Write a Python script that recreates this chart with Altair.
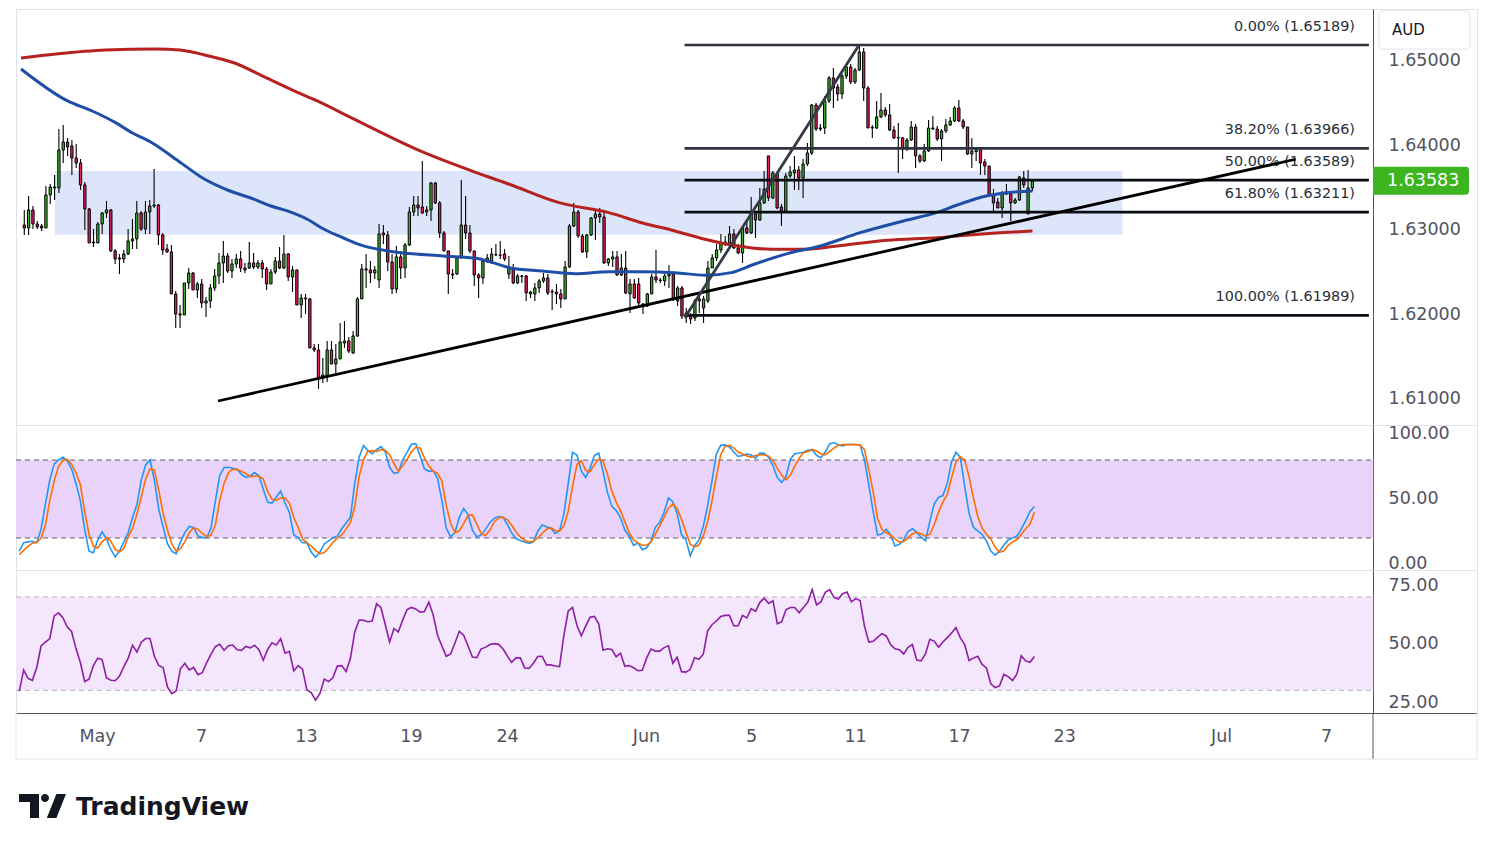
import altair as alt
import pandas as pd

# ---------------- data ----------------
opens = [
1.63059,1.63024,1.63237,1.63071,1.63047,1.63024,1.63414,1.63509,1.63497,1.63947,
1.64041,1.63994,1.63852,1.63793,1.63533,1.63249,1.62858,1.62846,1.63071,1.63201,
1.63237,1.62752,1.62669,1.62657,1.62716,1.62870,1.62894,1.63201,1.63012,1.63213,
1.63284,1.63296,1.62941,1.62775,1.62740,1.62243,1.62006,1.61994,1.62373,1.62491,
1.62290,1.62361,1.62136,1.62160,1.62314,1.62456,1.62610,1.62692,1.62515,1.62598,
1.62657,1.62550,1.62550,1.62610,1.62562,1.62610,1.62539,1.62361,1.62503,1.62633,
1.62550,1.62716,1.62444,1.62527,1.62113,1.62195,1.62184,1.61604,1.61580,1.61249,
1.61272,1.61580,1.61414,1.61473,1.61663,1.61686,1.61544,1.61746,1.62184,1.62539,
1.62527,1.62491,1.62408,1.62965,1.62941,1.62621,1.62302,1.62681,1.62550,1.62823,
1.63213,1.63296,1.63272,1.63213,1.63237,1.63556,1.63320,1.62965,1.62752,1.62479,
1.62479,1.62669,1.63059,1.62965,1.62752,1.62468,1.62432,1.62633,1.62633,1.62704,
1.62704,1.62716,1.62479,1.62550,1.62373,1.62456,1.62456,1.62243,1.62243,1.62314,
1.62397,1.62432,1.62272,1.62266,1.62243,1.62184,1.62562,1.63047,1.63213,1.62929,
1.62740,1.62941,1.63142,1.63189,1.63154,1.62610,1.62657,1.62681,1.62468,1.62550,
1.62243,1.62361,1.62361,1.62124,1.62101,1.62243,1.62444,1.62408,1.62397,1.62456,
1.62479,1.62160,1.62314,1.62018,1.61982,1.61959,1.62160,1.62077,1.62160,1.62550,
1.62669,1.62763,1.62858,1.62846,1.62953,1.62787,1.62728,1.63024,1.62965,1.63189,
1.63118,1.63320,1.63876,1.63379,1.63663,1.63272,1.63225,1.63639,1.63675,1.63710,
1.63615,1.63781,1.63911,1.64479,1.64207,1.64207,1.64527,1.64799,1.64692,1.64610,
1.64822,1.64929,1.64751,1.64893,1.65106,1.64680,1.64213,1.64207,1.64337,1.64420,
1.64361,1.64183,1.64095,1.64089,1.63959,1.64065,1.64219,1.63876,1.63817,1.63935,
1.64207,1.64195,1.64077,1.64172,1.64243,1.64290,1.64444,1.64290,1.64219,1.63899,
1.63927,1.63947,1.63805,1.63757,1.63414,1.63331,1.63260,1.63450,1.63426,1.63320,
1.63355,1.63615,1.63189,1.63497]

closes = [
1.63024,1.63237,1.63071,1.63036,1.63024,1.63414,1.63509,1.63497,1.63947,1.64041,
1.63982,1.63852,1.63793,1.63533,1.63249,1.62846,1.62846,1.63071,1.63201,1.63237,
1.62752,1.62657,1.62657,1.62716,1.62870,1.62894,1.63201,1.63012,1.63213,1.63284,
1.63296,1.62941,1.62763,1.62740,1.62243,1.62006,1.61994,1.62373,1.62491,1.62290,
1.62361,1.62136,1.62160,1.62314,1.62456,1.62610,1.62692,1.62515,1.62598,1.62657,
1.62550,1.62527,1.62610,1.62562,1.62610,1.62539,1.62361,1.62503,1.62633,1.62550,
1.62716,1.62444,1.62527,1.62113,1.62195,1.62184,1.61604,1.61580,1.61249,1.61284,
1.61580,1.61414,1.61473,1.61675,1.61686,1.61568,1.61746,1.62184,1.62539,1.62527,
1.62491,1.62527,1.62953,1.62941,1.62621,1.62302,1.62681,1.62550,1.62823,1.63213,
1.63296,1.63260,1.63201,1.63237,1.63556,1.63320,1.62965,1.62752,1.62479,1.62468,
1.62669,1.63059,1.62965,1.62752,1.62468,1.62432,1.62633,1.62669,1.62716,1.62708,
1.62700,1.62657,1.62550,1.62373,1.62456,1.62452,1.62255,1.62266,1.62314,1.62397,
1.62432,1.62255,1.62266,1.62243,1.62184,1.62562,1.63047,1.63213,1.62929,1.62740,
1.62941,1.63142,1.63189,1.63154,1.62610,1.62657,1.62681,1.62468,1.62550,1.62255,
1.62361,1.62195,1.62136,1.62101,1.62243,1.62444,1.62408,1.62402,1.62456,1.62479,
1.62195,1.62314,1.61982,1.61970,1.61947,1.62160,1.62184,1.62184,1.62550,1.62669,
1.62763,1.62846,1.62834,1.62953,1.62787,1.62728,1.63024,1.62965,1.63201,1.63118,
1.63320,1.63485,1.63379,1.63675,1.63260,1.63225,1.63639,1.63687,1.63710,1.63615,
1.63781,1.63911,1.64479,1.64195,1.64195,1.64527,1.64799,1.64680,1.64610,1.64822,
1.64929,1.64751,1.64893,1.65106,1.64680,1.64207,1.64207,1.64337,1.64420,1.64361,
1.64183,1.64089,1.64089,1.63959,1.64065,1.64219,1.63876,1.63817,1.63935,1.64207,
1.64195,1.64077,1.64172,1.64243,1.64290,1.64444,1.64290,1.64219,1.63899,1.63935,
1.63950,1.63793,1.63757,1.63403,1.63320,1.63260,1.63438,1.63426,1.63320,1.63355,
1.63627,1.63533,1.63497,1.63583]

highs = [
1.63237,1.63403,1.63284,1.63107,1.63071,1.63521,1.63544,1.63651,1.64195,1.64243,
1.64089,1.64065,1.64018,1.63840,1.63568,1.63260,1.63012,1.63095,1.63213,1.63343,
1.63249,1.62775,1.62716,1.62763,1.63012,1.63130,1.63343,1.63225,1.63343,1.63355,
1.63722,1.63308,1.62965,1.62834,1.62823,1.62278,1.62113,1.62373,1.62550,1.62503,
1.62385,1.62420,1.62207,1.62361,1.62539,1.62728,1.62870,1.62728,1.62657,1.62716,
1.62752,1.62610,1.62858,1.62728,1.62645,1.62645,1.62562,1.62539,1.62681,1.62799,
1.62941,1.62728,1.62574,1.62527,1.62243,1.62243,1.62195,1.61651,1.61651,1.61485,
1.61686,1.61686,1.61651,1.61900,1.61923,1.61734,1.61805,1.62207,1.62598,1.62716,
1.62633,1.62574,1.63071,1.63059,1.62988,1.62716,1.62811,1.62752,1.62846,1.63272,
1.63403,1.63403,1.63817,1.63284,1.63568,1.63568,1.63343,1.62988,1.62752,1.62539,
1.62692,1.63592,1.63403,1.63059,1.62752,1.62491,1.62657,1.62716,1.62787,1.62834,
1.62870,1.62775,1.62692,1.62598,1.62479,1.62468,1.62468,1.62278,1.62373,1.62420,
1.62491,1.62479,1.62302,1.62361,1.62302,1.62633,1.63071,1.63320,1.63237,1.62953,
1.62953,1.63154,1.63249,1.63260,1.63225,1.62669,1.62752,1.62752,1.62716,1.62752,
1.62420,1.62420,1.62432,1.62136,1.62255,1.62479,1.62763,1.62432,1.62479,1.62586,
1.62491,1.62337,1.62337,1.62077,1.62018,1.62184,1.62219,1.62219,1.62633,1.62716,
1.62834,1.62953,1.62929,1.63047,1.63012,1.62834,1.63047,1.63107,1.63391,1.63225,
1.63497,1.63698,1.63876,1.63698,1.63675,1.63308,1.63675,1.63757,1.63876,1.63757,
1.63840,1.64030,1.64491,1.64503,1.64254,1.64586,1.64822,1.64917,1.64728,1.64846,
1.64964,1.64964,1.64917,1.65189,1.65154,1.64704,1.64243,1.64527,1.64621,1.64456,
1.64491,1.64231,1.64266,1.64101,1.64089,1.64290,1.64254,1.63899,1.64018,1.64302,
1.64349,1.64231,1.64195,1.64314,1.64337,1.64467,1.64538,1.64314,1.64219,1.64089,
1.63982,1.63970,1.63840,1.63757,1.63485,1.63379,1.63462,1.63544,1.63462,1.63379,
1.63639,1.63698,1.63710,1.63604]

lows = [
1.62941,1.62941,1.63012,1.63012,1.62988,1.63024,1.63308,1.63355,1.63438,1.63793,
1.63876,1.63651,1.63734,1.63474,1.63000,1.62846,1.62799,1.62846,1.62953,1.63142,
1.62740,1.62598,1.62479,1.62610,1.62704,1.62775,1.62775,1.62988,1.62953,1.62953,
1.63260,1.62823,1.62704,1.62728,1.62243,1.61840,1.61840,1.61994,1.62302,1.62290,
1.62195,1.62077,1.61970,1.62077,1.62278,1.62361,1.62373,1.62491,1.62432,1.62550,
1.62503,1.62491,1.62539,1.62539,1.62539,1.62432,1.62290,1.62361,1.62479,1.62539,
1.62539,1.62397,1.62266,1.62113,1.61959,1.62006,1.61604,1.61556,1.61119,1.61190,
1.61201,1.61414,1.61308,1.61473,1.61604,1.61544,1.61533,1.61734,1.62184,1.62314,
1.62373,1.62420,1.62314,1.62834,1.62515,1.62243,1.62255,1.62420,1.62432,1.62811,
1.63166,1.63166,1.63189,1.63166,1.63107,1.63308,1.62905,1.62752,1.62243,1.62420,
1.62468,1.62669,1.62894,1.62728,1.62337,1.62195,1.62361,1.62610,1.62598,1.62692,
1.62657,1.62633,1.62420,1.62361,1.62361,1.62373,1.62160,1.62195,1.62160,1.62255,
1.62373,1.62231,1.62053,1.62124,1.62077,1.62184,1.62550,1.63036,1.62905,1.62728,
1.62669,1.62929,1.62882,1.63083,1.62598,1.62574,1.62562,1.62456,1.62456,1.62243,
1.62018,1.62184,1.62101,1.62006,1.62089,1.62243,1.62373,1.62373,1.62337,1.62314,
1.62160,1.62101,1.61947,1.61900,1.61888,1.61923,1.62018,1.61900,1.62136,1.62550,
1.62633,1.62728,1.62811,1.62834,1.62775,1.62716,1.62610,1.62953,1.62953,1.62905,
1.63107,1.63308,1.63343,1.63367,1.63249,1.63047,1.63201,1.63615,1.63474,1.63474,
1.63379,1.63757,1.63888,1.64172,1.64172,1.64136,1.64503,1.64444,1.64527,1.64550,
1.64787,1.64728,1.64728,1.64882,1.64527,1.64207,1.64089,1.64195,1.64325,1.64337,
1.64172,1.64077,1.63675,1.63840,1.63935,1.64053,1.63734,1.63793,1.63805,1.63923,
1.64183,1.64053,1.63817,1.64148,1.64231,1.64278,1.64278,1.64195,1.63888,1.63734,
1.63817,1.63651,1.63651,1.63391,1.63213,1.63260,1.63142,1.63414,1.63107,1.63308,
1.63343,1.63497,1.63189,1.63462]

stoch_k = [
9.9,16.4,17.0,17.5,16.4,26.8,46.3,64.6,76.8,80.1,
82.2,79.6,73.1,62.0,48.9,26.8,9.9,8.6,18.5,24.8,
19.6,11.2,5.5,9.9,17.0,24.2,35.9,45.8,64.6,76.2,
80.1,64.6,42.4,28.6,15.7,9.9,7.9,17.2,24.2,28.9,
28.2,21.6,20.3,20.3,27.6,48.4,67.9,74.2,74.4,73.6,
72.9,69.0,66.6,67.7,70.3,67.9,57.5,47.4,46.9,51.5,
56.2,46.9,39.6,22.4,20.3,16.4,16.4,9.2,5.2,9.2,
15.4,17.8,20.3,21.4,27.1,31.5,35.9,62.0,82.2,91.1,
87.2,84.8,87.9,90.3,86.4,74.4,69.7,70.3,80.1,85.9,
92.1,92.6,83.3,73.1,71.3,71.8,65.9,48.9,27.6,20.9,
24.2,35.9,42.7,38.0,26.3,20.9,22.2,26.6,31.8,35.1,
36.5,35.9,30.7,24.0,19.6,18.0,
17.0,15.9,17.0,25.0,30.0,28.6,27.6,23.5,25.5,38.5,
62.0,85.9,83.8,71.6,66.6,73.4,83.5,85.4,71.0,54.9,
44.5,41.1,35.7,26.1,21.4,14.4,16.2,11.0,12.5,17.5,
28.2,32.1,39.8,50.8,47.9,39.1,22.4,18.8,6.3,14.1,
18.5,28.9,45.0,64.0,84.6,91.3,91.6,90.0,86.1,82.7,
83.5,84.6,83.8,81.4,85.4,85.1,82.0,75.5,66.4,62.7,
67.1,80.7,84.8,85.4,85.9,87.4,87.9,83.5,81.7,86.1,
92.4,93.4,91.6,90.8,91.9,91.9,91.9,91.6,80.1,60.6,
40.4,22.2,23.0,26.8,22.4,13.8,15.1,18.5,25.0,27.1,
24.5,20.6,17.8,32.8,46.1,51.3,52.6,62.0,78.8,85.9,
82.0,59.9,39.1,28.2,25.5,22.7,17.8,9.9,6.8,9.9,
14.6,18.5,20.1,21.6,26.8,33.4,40.4,44.3]

stoch_d = [
7.3,10.5,13.6,15.9,16.7,19.8,30.2,48.9,63.8,75.0,
79.4,80.7,76.8,70.0,61.2,40.6,22.7,13.6,12.3,17.0,
20.1,17.7,11.2,9.4,12.0,21.1,27.6,38.5,51.5,65.6,
73.1,72.3,56.8,39.1,26.1,15.7,9.9,11.8,17.2,24.0,
27.9,26.8,23.5,21.1,22.2,30.0,48.9,62.0,70.3,72.9,
72.6,71.3,69.5,67.2,67.7,67.7,65.3,55.7,50.0,48.9,
51.0,50.8,46.9,35.9,28.2,19.3,16.4,13.8,10.5,7.9,
8.9,12.3,16.7,19.8,22.4,26.8,31.8,44.3,67.2,80.1,
86.9,87.2,86.6,87.9,87.4,84.0,77.3,71.3,75.5,80.4,
86.1,89.8,89.2,81.7,75.5,71.3,69.7,63.8,45.0,31.3,
24.2,25.5,31.3,37.5,37.8,30.7,23.5,21.9,26.1,32.1,
35.4,35.9,34.1,30.0,24.8,20.9,
18.3,17.0,17.5,20.1,23.5,26.8,27.9,25.8,25.3,29.4,
40.6,59.9,76.5,79.4,72.1,71.0,76.2,80.7,78.9,69.2,
56.2,47.6,41.1,32.6,24.0,18.5,16.2,14.4,14.4,17.0,
22.9,29.4,35.9,42.9,46.1,42.9,34.4,24.8,15.1,13.3,
14.6,21.6,32.6,48.4,67.2,84.0,90.5,91.3,89.2,86.1,
84.6,83.0,82.2,83.5,84.0,84.0,83.0,79.4,73.6,68.4,
64.8,68.4,75.2,81.4,85.6,86.6,88.2,86.9,84.8,84.0,
86.6,89.2,91.3,91.8,91.8,91.8,91.8,91.6,87.9,72.3,
55.2,35.2,26.6,24.0,22.2,19.3,17.0,17.2,20.3,23.2,
24.2,23.2,21.4,22.9,30.2,39.9,47.6,53.4,66.6,78.3,
82.5,80.1,67.2,50.8,36.7,27.6,22.9,19.1,12.8,8.9,
10.2,14.4,17.0,18.8,22.9,27.1,30.7,39.9]

rsi = [
29.7,38.7,35.1,34.3,39.8,49.0,50.7,52.2,61.9,63.2,
61.1,57.1,55.2,48.0,42.0,33.8,34.8,40.6,43.8,43.2,
35.4,34.3,34.1,36.1,40.2,43.8,49.3,46.4,50.6,52.2,
52.2,44.6,40.7,39.8,31.5,28.6,29.7,39.3,41.6,38.7,
39.8,36.7,37.6,41.8,45.5,48.7,49.7,47.2,49.1,49.4,
47.4,47.1,48.8,48.2,49.3,47.4,42.9,47.5,50.4,49.4,
52.2,45.9,46.7,38.3,40.6,39.1,30.2,29.0,25.8,28.7,
34.8,33.8,35.5,40.4,40.6,38.1,43.6,55.0,60.1,60.0,
59.4,59.7,67.1,65.5,58.2,50.7,56.5,55.0,60.1,64.6,
65.5,64.9,63.5,63.8,67.8,62.3,53.6,49.0,44.6,45.6,
50.3,55.3,53.6,49.0,44.3,44.0,47.8,48.4,49.6,50.0,
49.7,47.8,44.8,42.0,43.9,43.9,
39.6,39.4,41.6,44.5,44.6,40.9,40.9,40.4,40.2,53.6,
64.0,65.5,57.8,53.4,57.5,61.3,61.7,58.5,47.2,47.8,
47.5,44.4,45.9,40.3,40.6,39.7,38.4,38.6,43.8,47.7,
46.8,46.8,48.3,49.1,41.6,44.2,38.0,37.8,39.0,44.0,
43.3,45.5,55.5,58.1,59.7,61.6,62.1,62.1,57.7,57.7,
62.1,61.0,65.0,63.8,67.7,69.5,67.2,68.4,58.5,59.4,
64.6,65.5,65.5,63.2,65.5,67.8,73.2,66.6,67.9,72.0,
73.2,69.8,69.1,71.4,72.1,67.9,69.3,68.5,57.5,50.7,
51.0,52.7,54.3,53.3,49.6,47.8,47.4,45.6,48.4,49.6,
43.0,42.6,45.6,51.9,51.1,48.5,50.7,52.6,54.6,56.9,
52.5,49.6,42.8,43.8,44.6,41.1,39.6,32.8,31.2,31.9,
36.8,35.9,34.2,37.0,44.8,42.6,42.0,44.5]

ma_blue_idx = [-0.76,10.0,15.7,21.1,24.9,29.5,35.6,41.7,47.1,53.2,57.0,60.8,65.4,69.3,73.9,78.4,85.3,96.8,
               104.5,108.3,112.1,119.8,127.4,135.1,142.7,150.4,157.3,163.4,168.7,176.4,184.0,193.2,203.2,
               210.8,216.1,222.3,226.1,233.0]
ma_blue_val = [1.64905,1.64527,1.64408,1.64270,1.64151,1.64033,1.63817,1.63600,1.63470,1.63363,1.63284,
               1.63225,1.63127,1.63008,1.62902,1.62811,1.62743,1.62692,1.62665,1.62613,1.62554,1.62515,
               1.62483,1.62507,1.62507,1.62495,1.62464,1.62495,1.62594,1.62720,1.62811,1.62968,1.63107,
               1.63205,1.63304,1.63402,1.63434,1.63462]
ma_red_idx = [-0.76,7.3,18.8,30.2,36.0,41.7,48.6,55.5,62.4,67.7,76.1,91.5,104.5,112.1,123.6,135.1,142.7,
              150.4,157.3,164.9,172.6,180.2,187.9,199.4,210.8,222.3,233.0]
ma_red_val = [1.65036,1.65083,1.65130,1.65142,1.65130,1.65071,1.64976,1.64811,1.64645,1.64527,1.64314,
              1.63935,1.63678,1.63541,1.63323,1.63205,1.63086,1.62988,1.62890,1.62811,1.62772,1.62772,
              1.62811,1.62878,1.62909,1.62956,1.62988]

zone_idx = [7.05, 253.8]
zone_price = [1.63698, 1.62944]

fib_pct = ["0.00%", "38.20%", "50.00%", "61.80%", "100.00%"]
fib_price = [1.65189, 1.63966, 1.63589, 1.63211, 1.61989]
fib_start = 152.6

trend_from_idx = [44.77, 152.66]
trend_from_price = [1.60976, 1.61962]
trend_to_idx = [293.85, 192.93]
trend_to_price = [1.63837, 1.65189]

tick_idx = [17.84, 41.71, 65.81, 89.91, 111.95, 143.86, 167.96, 191.84, 215.72, 239.83, 275.87, 299.98]
tick_labels = ["May", "7", "13", "19", "24", "Jun", "5", "11", "17", "23", "Jul", "7"]

last_price = 1.63583
currency = "AUD"

# ---------------- layout / style ----------------
W = 1461
H_MAIN, H_STO, H_RSI = 416, 145, 143
X_DOMAIN = [-0.76, 334.6]
PLOT_END = 310.77          # index at the price-scale separator
FONT = "DejaVu Sans"
AXC = "#50535e"
GREEN, RED = "#3cb52a", "#e91e63"

n = min(len(opens), len(closes), len(highs), len(lows), len(stoch_k), len(stoch_d), len(rsi))
candles = pd.DataFrame({
    "i": list(range(n)),
    "open": opens[:n], "close": closes[:n], "high": highs[:n], "low": lows[:n],
})
candles["dir"] = ["up" if c >= o else "down" for o, c in zip(candles["open"], candles["close"])]
ind = pd.DataFrame({"i": list(range(n)), "k": stoch_k[:n], "d": stoch_d[:n], "rsi": rsi[:n]})

xs = alt.Scale(domain=X_DOMAIN, nice=False, zero=False)


def X(f):
    return alt.X(f, type="quantitative", scale=xs, axis=None)


def right_axis(values, fmt):
    return alt.Axis(orient="right", offset=-104, values=values, format=fmt, tickSize=0,
                    labelPadding=15, domainColor=AXC, domainWidth=1, labelColor=AXC,
                    labelFontSize=17.5, labelFont=FONT, grid=False, title=None,
                    labelOverlap=False)


ys_main = alt.Scale(domain=[1.60692, 1.65615], nice=False, zero=False)
ax_main = right_axis([1.61, 1.62, 1.63, 1.64, 1.65], ".5f")


def YM(f):
    return alt.Y(f, type="quantitative", scale=ys_main, axis=ax_main)


one = pd.DataFrame({"a": [0]})

zone_df = pd.DataFrame({"x": [zone_idx[0]], "x2": [zone_idx[1]], "y": [zone_price[0]], "y2": [zone_price[1]]})
zone = alt.Chart(zone_df).mark_rect(color="#dce5fa").encode(x=X("x"), x2="x2", y=YM("y"), y2="y2")

wicks = alt.Chart(candles).mark_rule(color="#000000", strokeWidth=1.1).encode(
    x=X("i"), y=YM("low"), y2="high")
bodies = alt.Chart(candles).mark_bar(size=2.3, stroke="#000000", strokeWidth=1).encode(
    x=X("i"), y=YM("open"), y2="close",
    fill=alt.Fill("dir:N", scale=alt.Scale(domain=["up", "down"], range=[GREEN, RED]), legend=None))

red_df = pd.DataFrame({"i": ma_red_idx, "v": ma_red_val})
blue_df = pd.DataFrame({"i": ma_blue_idx, "v": ma_blue_val})
ma_red = alt.Chart(red_df).mark_line(color="#b5221f", strokeWidth=3, interpolate="monotone", clip=True).encode(
    x=X("i"), y=YM("v"))
ma_blue = alt.Chart(blue_df).mark_line(color="#1f4ea6", strokeWidth=3, interpolate="monotone", clip=True).encode(
    x=X("i"), y=YM("v"))

fib_df = pd.DataFrame({
    "p": fib_price,
    "label": [f"{a} ({b:.5f})" for a, b in zip(fib_pct, fib_price)],
    "x": [fib_start] * len(fib_price),
    "x2": [PLOT_END] * len(fib_price),
    "tx": [307.55] * len(fib_price),
    "grp": ["a", "a", "b", "b", "b"],
})
fib_lines = alt.Chart(fib_df).mark_rule(strokeWidth=2.7).encode(
    x=X("x"), x2="x2", y=YM("p"),
    stroke=alt.Stroke("grp:N", scale=alt.Scale(domain=["a", "b"], range=["#2f323d", "#0a0d14"]), legend=None))
fib_text = alt.Chart(fib_df).mark_text(align="right", baseline="middle", dy=-18, fontSize=14.4,
                                       font=FONT, color="#2a2e39").encode(
    x=X("tx"), y=YM("p"), text="label:N")

trend_df = pd.DataFrame({"x1": trend_from_idx, "y1": trend_from_price,
                         "x2": trend_to_idx, "y2": trend_to_price})
trend1 = alt.Chart(trend_df.iloc[[0]]).mark_rule(color="#000000", strokeWidth=2.8).encode(
    x=X("x1"), y=YM("y1"), x2="x2", y2="y2")
trend2 = alt.Chart(trend_df.iloc[[1]]).mark_rule(color="#363a46", strokeWidth=2.8).encode(
    x=X("x1"), y=YM("y1"), x2="x2", y2="y2")

tag_df = pd.DataFrame({"p": [last_price], "t": [f"{last_price:.5f}"]})
TAG = "M-1,-0.29L0.93,-0.29Q1,-0.29 1,-0.22L1,0.22Q1,0.29 0.93,0.29L-1,0.29Z"
tag_box = alt.Chart(tag_df).mark_point(shape=TAG, size=96 * 96, filled=True, color="#3cb521", opacity=1).encode(
    x=alt.value(1405), y=YM("p"))
tag_text = alt.Chart(tag_df).mark_text(align="left", baseline="middle", fontSize=17.5, font=FONT,
                                       color="white").encode(x=alt.value(1371), y=YM("p"), text="t:N")

AUDBOX = ("M-0.9,-0.42L0.9,-0.42Q1,-0.42 1,-0.32L1,0.32Q1,0.42 0.9,0.42L-0.9,0.42"
          "Q-1,0.42 -1,0.32L-1,-0.32Q-1,-0.42 -0.9,-0.42Z")
aud_box = alt.Chart(one).mark_point(shape=AUDBOX, size=91 * 91, filled=True, color="white",
                                    stroke="#e0e3eb", strokeWidth=1, opacity=1).encode(
    x=alt.value(1408.5), y=alt.value(21))
aud_text = alt.Chart(one).mark_text(align="left", baseline="middle", fontSize=15, font=FONT,
                                    color="#131722").encode(
    x=alt.value(1376), y=alt.value(21), text=alt.value(currency))

main = alt.layer(zone, wicks, bodies, ma_red, ma_blue, fib_lines, fib_text, trend1, trend2,
                 tag_box, tag_text, aud_box, aud_text).properties(width=W, height=H_MAIN)

# ---------------- stochastic ----------------
ys_sto = alt.Scale(domain=[-4.62, 106.92], nice=False, zero=False)
ax_sto = right_axis([0, 50, 100], ".2f")


def YS(f):
    return alt.Y(f, type="quantitative", scale=ys_sto, axis=ax_sto)


sto_band_df = pd.DataFrame({"x": [X_DOMAIN[0]], "x2": [PLOT_END], "y": [20], "y2": [80]})
sto_lv_df = pd.DataFrame({"x": [X_DOMAIN[0]] * 2, "x2": [PLOT_END] * 2, "y": [20, 80]})
sto_band = alt.Chart(sto_band_df).mark_rect(color="#e9d3fb").encode(x=X("x"), x2="x2", y=YS("y"), y2="y2")
sto_lv = alt.Chart(sto_lv_df).mark_rule(color="#5d606b", strokeWidth=1, strokeDash=[5, 4]).encode(
    x=X("x"), x2="x2", y=YS("y"))
k_line = alt.Chart(ind).mark_line(color="#2196f3", strokeWidth=1.6).encode(x=X("i"), y=YS("k"))
d_line = alt.Chart(ind).mark_line(color="#ff6d00", strokeWidth=1.6).encode(x=X("i"), y=YS("d"))
sto = alt.layer(sto_band, sto_lv, k_line, d_line).properties(width=W, height=H_STO)

# ---------------- RSI ----------------
ys_rsi = alt.Scale(domain=[20.29, 81.56], nice=False, zero=False)
ax_rsi = right_axis([25, 50, 75], ".2f")
lab_expr = ("[" + ",".join(f"'{t}'" for t in tick_labels) + "][indexof([" +
            ",".join(str(v) for v in tick_idx) + "], datum.value)]")
ax_x = alt.Axis(values=tick_idx, labelExpr=lab_expr, tickSize=0, labelPadding=14, domainColor=AXC,
                domainWidth=1, labelColor=AXC, labelFontSize=17.5, labelFont=FONT, grid=False,
                title=None, labelOverlap=False, labelFlush=False)


def XR(f):
    return alt.X(f, type="quantitative", scale=xs, axis=ax_x)


def YR(f):
    return alt.Y(f, type="quantitative", scale=ys_rsi, axis=ax_rsi)


rsi_band_df = pd.DataFrame({"x": [X_DOMAIN[0]], "x2": [PLOT_END], "y": [30], "y2": [70]})
rsi_lv_df = pd.DataFrame({"x": [X_DOMAIN[0]] * 2, "x2": [PLOT_END] * 2, "y": [30, 70]})
rsi_band = alt.Chart(rsi_band_df).mark_rect(color="#f3e6fd").encode(x=XR("x"), x2="x2", y=YR("y"), y2="y2")
rsi_lv = alt.Chart(rsi_lv_df).mark_rule(color="#b2b5be", strokeWidth=1, strokeDash=[5, 4]).encode(
    x=XR("x"), x2="x2", y=YR("y"))
rsi_line = alt.Chart(ind).mark_line(color="#8e1fa3", strokeWidth=1.6).encode(x=XR("i"), y=YR("rsi"))

frame_v = alt.Chart(one).mark_rule(color=AXC, strokeWidth=1).encode(
    x=alt.value(1357), y=alt.value(H_RSI), y2=alt.value(189))
frame_b = alt.Chart(one).mark_rule(color="#e0e3eb", strokeWidth=1).encode(
    x=alt.value(0), x2=alt.value(W), y=alt.value(189))
frame_l = alt.Chart(one).mark_rule(color="#e0e3eb", strokeWidth=1).encode(
    x=alt.value(0), y=alt.value(H_RSI), y2=alt.value(189))
frame_r = alt.Chart(one).mark_rule(color="#e0e3eb", strokeWidth=1).encode(
    x=alt.value(W), y=alt.value(H_RSI), y2=alt.value(189))

LOGO = ("M-0.958,-0.5L-0.125,-0.5L-0.125,0.5L-0.5,0.5L-0.5,-0.167L-0.958,-0.167Z "
        "M0.292,-0.333A0.167,0.167 0 1,1 -0.042,-0.333A0.167,0.167 0 1,1 0.292,-0.333Z "
        "M0.2,0.5L0.6,0.5L1.0,-0.5L0.6,-0.5Z")
logo = alt.Chart(one).mark_point(shape=LOGO, size=48 * 48, filled=True, color="#131722", opacity=1).encode(
    x=alt.value(26), y=alt.value(236))
logo_text = alt.Chart(one).mark_text(align="left", baseline="middle", fontSize=25, fontWeight="bold",
                                     font=FONT, color="#131722").encode(
    x=alt.value(60), y=alt.value(237), text=alt.value("TradingView"))

rsi_panel = alt.layer(rsi_band, rsi_lv, rsi_line, frame_v, frame_b, frame_l, frame_r,
                      logo, logo_text).properties(width=W, height=H_RSI)

chart = alt.vconcat(main, sto, rsi_panel, spacing=0, bounds="flush").resolve_scale(
    x="independent", y="independent"
).properties(
    padding={"left": 7, "top": 0, "right": 0, "bottom": 0},
    background="white",
).configure_view(stroke="#e0e3eb", strokeWidth=1).configure_text(font=FONT)

chart.save("out.html", embed_options={"renderer": "svg", "actions": False})
